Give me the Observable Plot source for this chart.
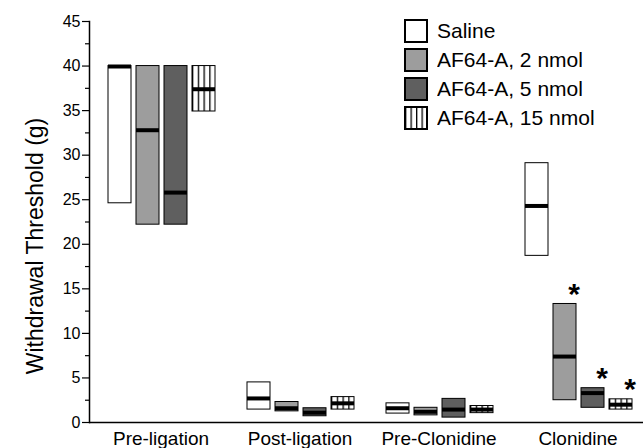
<!DOCTYPE html>
<html><head><meta charset="utf-8">
<script src="https://cdn.jsdelivr.net/npm/d3@7"></script>
<script src="https://cdn.jsdelivr.net/npm/@observablehq/plot@0.6"></script>
<style>
body{margin:0;background:#fff;}
#wrap{position:relative;width:643px;height:448px;overflow:hidden;font-family:"Liberation Sans",Arial,sans-serif;}
#legend{position:absolute;left:405px;top:19px;}
#legend .lg-swatch{padding-bottom:5px !important;margin:0 !important;}
#legend .lg-swatch svg{margin-right:10px !important;}
#legend .lg-swatch svg rect{stroke:#000;stroke-width:2px;}
</style></head><body>
<svg width="0" height="0" style="position:absolute">
  <defs>
    <pattern id="stripes" patternUnits="objectBoundingBox" width="0.25" height="1">
      <rect x="0" y="0" width="1000" height="1000" fill="#fff"></rect>
      <rect x="0" y="0" width="1.3" height="1000" fill="#000"></rect>
    </pattern>
  </defs>
</svg>
<div id="wrap"></div>
<script>
const groups = ["Pre-ligation", "Post-ligation", "Pre-Clonidine", "Clonidine"];
const series = ["Saline", "AF64-A, 2 nmol", "AF64-A, 5 nmol", "AF64-A, 15 nmol"];
// rows: groups; columns: series
const lows    = [[24.6, 22.2, 22.2, 34.9], [1.45, 1.25, 0.7, 1.45], [1.0, 0.8, 0.55, 1.05], [18.7, 2.5, 1.65, 1.45]];
const highs   = [[40.0, 40.0, 40.0, 40.0], [4.5, 2.3, 1.6, 2.85],  [2.15, 1.65, 2.65, 1.85], [29.1, 13.3, 3.85, 2.6]];
const medians = [[39.95, 32.8, 25.8, 37.4], [2.7, 1.6, 1.1, 2.15], [1.6, 1.2, 1.45, 1.45], [24.3, 7.4, 3.3, 2.0]];
const starGroup = "Clonidine";
const starSeries = ["AF64-A, 2 nmol", "AF64-A, 5 nmol", "AF64-A, 15 nmol"];
const fills = ["#ffffff", "#9d9d9d", "#5f5f5f", "url(#stripes)"];
const yTicks = [0, 5, 10, 15, 20, 25, 30, 35, 40, 45];
const yMinor = [2.5, 7.5, 12.5, 17.5, 22.5, 27.5, 32.5, 37.5, 42.5];
const yTitle = "Withdrawal Threshold (g)";

const data = groups.flatMap((g, i) => series.map((s, j) => ({
  group: g, series: s, low: lows[i][j], high: highs[i][j], median: medians[i][j]
})));
const stars = data.filter(d => d.group === starGroup && starSeries.includes(d.series));
const font = "'Liberation Sans', Arial, sans-serif";

const chart = Plot.plot({
  width: 643, height: 448,
  marginLeft: 87, marginRight: -3, marginTop: 21, marginBottom: 26,
  style: {fontFamily: font, background: "white", color: "black", overflow: "visible"},
  fx: {domain: groups, paddingInner: 0, paddingOuter: 0, label: null, axis: null},
  x: {domain: series, paddingInner: 0.19, paddingOuter: 0.547, align: 0.577, axis: null},
  y: {domain: [0, 45], axis: null},
  color: {domain: series, range: fills},
  marks: [
    Plot.barY(data, {fx: "group", x: "series", y1: "low", y2: "high", fill: "series", stroke: "black", strokeWidth: 1}),
    Plot.tickY(data, {fx: "group", x: "series", y: "median", stroke: "black", strokeWidth: 4}),
    Plot.text(stars, {fx: "group", x: "series", y: "high", text: () => "*", dx: 9, dy: -10, fontSize: 30, fontWeight: "bold", lineAnchor: "middle"}),
    Plot.ruleY([0], {stroke: "black", strokeWidth: 1.5}),
    Plot.frame({anchor: "left", facetAnchor: "left", strokeWidth: 1.5}),
    Plot.axisY(yTicks, {tickSize: 7, tickPadding: 2, fontSize: 16, label: null, facetAnchor: "left", strokeWidth: 1.2}),
    Plot.axisY(yMinor, {tickSize: 4, text: null, label: null, facetAnchor: "left", strokeWidth: 1.2}),
    Plot.axisFx({anchor: "bottom", tickSize: 0, tickPadding: 9, fontSize: 19, label: null, dx: 2}),
    Plot.text([yTitle], {frameAnchor: "left", facetAnchor: "left", textAnchor: "middle", rotate: -90, dx: -54, dy: 24, fontSize: 23, text: d => d})
  ]
});
const wrap = document.getElementById("wrap");
wrap.appendChild(chart);

const legend = Plot.legend({
  color: {domain: series, range: fills},
  legend: "swatches", columns: 1, swatchSize: 22, className: "lg",
  style: {fontFamily: font, fontSize: "21px", color: "black", margin: 0}
});
legend.id = "legend";
wrap.appendChild(legend);
</script>
</body></html>
